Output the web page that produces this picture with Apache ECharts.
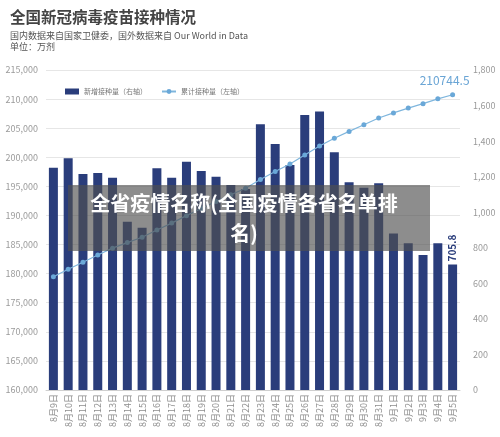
<!DOCTYPE html>
<html>
<head>
<meta charset="utf-8">
<script src="https://cdn.jsdelivr.net/npm/echarts@6/dist/echarts.min.js"></script>
<style>
html,body{margin:0;padding:0;background:#fff;}
#c{width:500px;height:437px;}
</style>
</head>
<body>
<div id="c"></div>
<script>
const categories = ['8月9日','8月10日','8月11日','8月12日','8月13日','8月14日','8月15日','8月16日','8月17日','8月18日','8月19日','8月20日','8月21日','8月22日','8月23日','8月24日','8月25日','8月26日','8月27日','8月28日','8月29日','8月30日','8月31日','9月1日','9月2日','9月3日','9月4日','9月5日'];
const dailyDoses = [1250,1303,1215,1221,1194,947,913,1247,1194,1284,1232,1200,1153,1130,1495,1384,1266,1547,1566,1337,1168,1138,1163,881,825,760,825,705.8];
const cumulativeDoses = [179450.7,180753.7,181968.7,183189.7,184383.7,185330.7,186243.7,187490.7,188684.7,189968.7,191200.7,192400.7,193553.7,194683.7,196178.7,197562.7,198828.7,200375.7,201941.7,203278.7,204446.7,205584.7,206747.7,207628.7,208453.7,209213.7,210038.7,210744.5];
const leftTicks = {min:160000, max:215000, interval:5000};
const rightTicks = {min:0, max:1800, interval:200};
const seriesNames = ['新增接种量（右轴）','累计接种量（左轴）'];
const titleText = '全国新冠病毒疫苗接种情况';
const sourceText = '国内数据来自国家卫健委，国外数据来自 Our World in Data';
const unitText = '单位：万剂';
const bannerText = '全省疫情名称(全国疫情各省名单排\n名)';

const FONT = '"Noto Sans CJK SC","Noto Sans",sans-serif';
const BAR = '#2a3d7b';
const LINE = '#7fb6dd';

const chart = echarts.init(document.getElementById('c'), null, {renderer:'canvas'});

const lastIdx = categories.length - 1;
const barData = dailyDoses.map((v,i)=> i===lastIdx ? {
  value:v,
  label:{show:true, position:'top', rotate:90, align:'left', verticalAlign:'middle', distance:3,
         color:BAR, fontSize:10, fontWeight:'bold', fontFamily:FONT, formatter:'{c}'}
} : v);
const lineData = cumulativeDoses.map((v,i)=> i===lastIdx ? {
  value:v,
  label:{show:true, position:'top', distance:6, offset:[-8,0], color:'#6aa5d5', fontSize:12, fontFamily:FONT, formatter:'{c}'}
} : v);

chart.setOption({
  backgroundColor:'#fff',
  animation:false,
  textStyle:{fontFamily:FONT},
  grid:{left:46, right:40, top:70, bottom:47, containLabel:false},
  legend:{
    left:60, top:83, itemWidth:14, itemHeight:6, itemGap:14,
    textStyle:{fontSize:7, color:'#777', fontFamily:FONT},
    data:[{name:seriesNames[0], icon:'rect'}, {name:seriesNames[1]}]
  },
  xAxis:{
    type:'category', data:categories, boundaryGap:true,
    axisLine:{show:true, lineStyle:{color:'#cfcfcf'}},
    axisTick:{show:false},
    axisLabel:{rotate:90, interval:0, fontSize:9, color:'#8c8c8c', margin:4, fontFamily:FONT}
  },
  yAxis:[{
    type:'value', position:'left', min:leftTicks.min, max:leftTicks.max, interval:leftTicks.interval,
    axisLine:{show:false}, axisTick:{show:false},
    axisLabel:{fontSize:9, color:'#9a9a9a', margin:8, fontFamily:FONT},
    splitLine:{show:true, lineStyle:{color:'#e6e6e6', width:1}}
  },{
    type:'value', position:'right', min:rightTicks.min, max:rightTicks.max, interval:rightTicks.interval,
    axisLine:{show:false}, axisTick:{show:false},
    axisLabel:{fontSize:9, color:'#9a9a9a', margin:13, fontFamily:FONT},
    splitLine:{show:false}
  }],
  series:[{
    name:seriesNames[0], type:'bar', yAxisIndex:1, data:barData,
    barWidth:9, itemStyle:{color:BAR}, z:2
  },{
    name:seriesNames[1], type:'line', yAxisIndex:0, data:lineData,
    symbol:'circle', symbolSize:5, showSymbol:true,
    lineStyle:{color:LINE, width:1.2}, itemStyle:{color:'#6aa8d8'}, z:3
  }],
  graphic:[
    {type:'text', left:10, top:9, style:{text:titleText, fontSize:15.5, fontWeight:'bold', fill:'#444', fontFamily:FONT}},
    {type:'text', left:10, top:31, style:{text:sourceText, fontSize:9, fill:'#555', fontFamily:FONT}},
    {type:'text', left:10, top:42, style:{text:unitText, fontSize:9, fill:'#555', fontFamily:FONT}},
    {type:'rect', shape:{x:68, y:185, width:362, height:66}, style:{fill:'rgba(80,80,80,0.65)'}, z:100},
    {type:'text', x:244, y:218, z:101, style:{text:bannerText, fontSize:20, fontWeight:'bold', fill:'#fff',
      align:'center', verticalAlign:'middle', lineHeight:30, fontFamily:FONT}}
  ]
});
</script>
</body>
</html>
